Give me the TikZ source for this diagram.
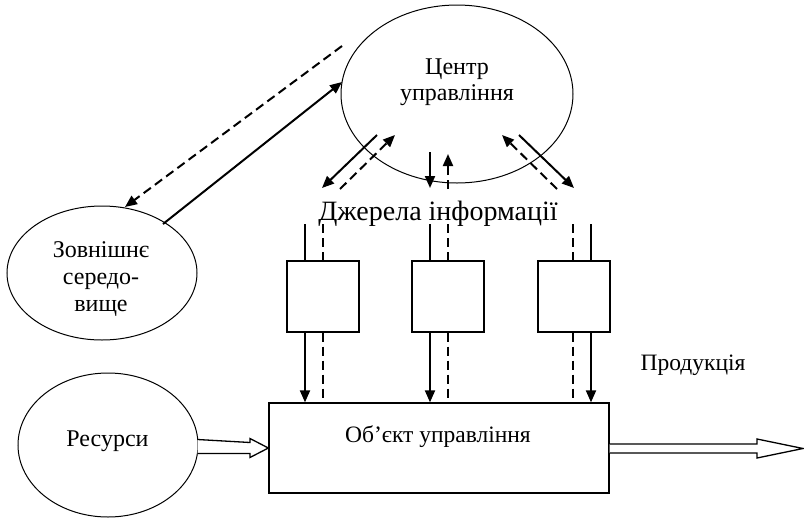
\documentclass[tikz,border=0pt]{standalone}
\usepackage{fontspec}
\setmainfont{Liberation Serif}
\usetikzlibrary{arrows.meta,shapes.geometric,calc}
\begin{document}
\begin{tikzpicture}[x=1pt,y=-1pt,
  oval/.style={draw,ellipse,line width=1pt,inner sep=0pt},
  lbl/.style={inner sep=0pt,align=center,font=\fontsize{24}{26}\selectfont},
  blk/.style={draw,line width=1.3pt,inner sep=0pt},
  sig/.style={line width=2pt,-{Triangle[length=12pt,width=10pt]}},
  dsig/.style={line width=2pt,dash pattern=on 9pt off 5pt,-{Triangle[length=12pt,width=10pt]}},
  dline/.style={line width=2pt,dash pattern=on 9pt off 5pt},
  feed/.style={line width=1.1pt},
  hollow/.style={draw,line width=1.3pt,fill=white,line join=miter}]
\useasboundingbox (0,0) rectangle (804,520);

% main nodes
\node[oval,minimum width=232pt,minimum height=178pt] (centre) at (457,94) {};
\node[lbl] (centretxt) at (457,82) {Центр\\управління};
\node[oval,minimum width=190pt,minimum height=134pt] (env) at (102,273) {};
\node[lbl,font=\fontsize{24}{27}\selectfont] (envtxt) at (101,279) {Зовнішнє\\середо-\\вище};
\node[oval,minimum width=180pt,minimum height=144pt] (res) at (108,445) {};
\node[lbl] (restxt) at (107.5,441) {Ресурси};
\node[blk,minimum width=340pt,minimum height=90pt] (obj) at (439,448) {};
\node[lbl,font=\fontsize{23.5}{26}\selectfont] (objtxt) at (438,437) {Об’єкт управління};
\node[lbl,font=\fontsize{28}{30}\selectfont] (src) at (438,214) {Джерела інформації};
\node[lbl,font=\fontsize{23.5}{26}\selectfont] (prod) at (693,365) {Продукція};

% information source blocks
\node[blk,minimum width=72pt,minimum height=71pt] (b1) at (323,296.5) {};
\node[blk,minimum width=72pt,minimum height=71pt] (b2) at (448,296.5) {};
\node[blk,minimum width=72pt,minimum height=71pt] (b3) at (574,296.5) {};

% exchange with the environment
\coordinate (ed1) at (342,46);
\coordinate (ed2) at (125,207);
\coordinate (es1) at (163,224);
\coordinate (es2) at (342,82);
\draw[dsig] (ed1) -- (ed2);
\draw[sig] (es1) -- (es2);

% links between the centre and the sources
\coordinate (l1a) at (377,135); \coordinate (l1b) at (322,188);
\coordinate (l2a) at (340,189); \coordinate (l2b) at (395,135);
\coordinate (m1a) at (430,152); \coordinate (m1b) at (430,188);
\coordinate (m2a) at (448,189); \coordinate (m2b) at (448,154);
\coordinate (r1a) at (557,189); \coordinate (r1b) at (502,135);
\coordinate (r2a) at (519,135); \coordinate (r2b) at (574,188);
\draw[sig] (l1a) -- (l1b);
\draw[dsig] (l2a) -- (l2b);
\draw[sig] (m1a) -- (m1b);
\draw[dsig] (m2a) -- (m2b);
\draw[dsig] (r1a) -- (r1b);
\draw[sig] (r2a) -- (r2b);

% feeds into the blocks
\coordinate (t1s) at (305,224); \coordinate (t1d) at (323,224);
\coordinate (t2s) at (430,224); \coordinate (t2d) at (448,224);
\coordinate (t3d) at (573,224); \coordinate (t3s) at (591,224);
\draw[feed] (t1s) -- (t1s |- b1.north);
\draw[dline] (t1d) -- (t1d |- b1.north);
\draw[feed] (t2s) -- (t2s |- b2.north);
\draw[dline] (t2d) -- (t2d |- b2.north);
\draw[dline] (t3d) -- (t3d |- b3.north);
\draw[feed] (t3s) -- (t3s |- b3.north);

% blocks to the controlled object
\draw[sig] (t1s |- b1.south) -- (t1s |- obj.north);
\draw[dline] (t1d |- b1.south) -- (t1d |- obj.north);
\draw[sig] (t2s |- b2.south) -- (t2s |- obj.north);
\draw[dline] (t2d |- b2.south) -- (t2d |- obj.north);
\draw[dline] (t3d |- b3.south) -- (t3d |- obj.north);
\draw[sig] (t3s |- b3.south) -- (t3s |- obj.north);

% resources in, products out
\draw[hollow] ($(res.east)+(-1,-5.5)$) -- (250,442.5) -- (250,438.5) -- (obj.west)
  -- (250,457.5) -- (250,453.5) -- ($(res.east)+(-1,8.5)$);
\draw[hollow] (obj.east |- 0,444) -- (757,444) -- (757,439) -- (803,448.5)
  -- (757,458) -- (757,453) -- (obj.east |- 0,453);
\end{tikzpicture}
\end{document}
